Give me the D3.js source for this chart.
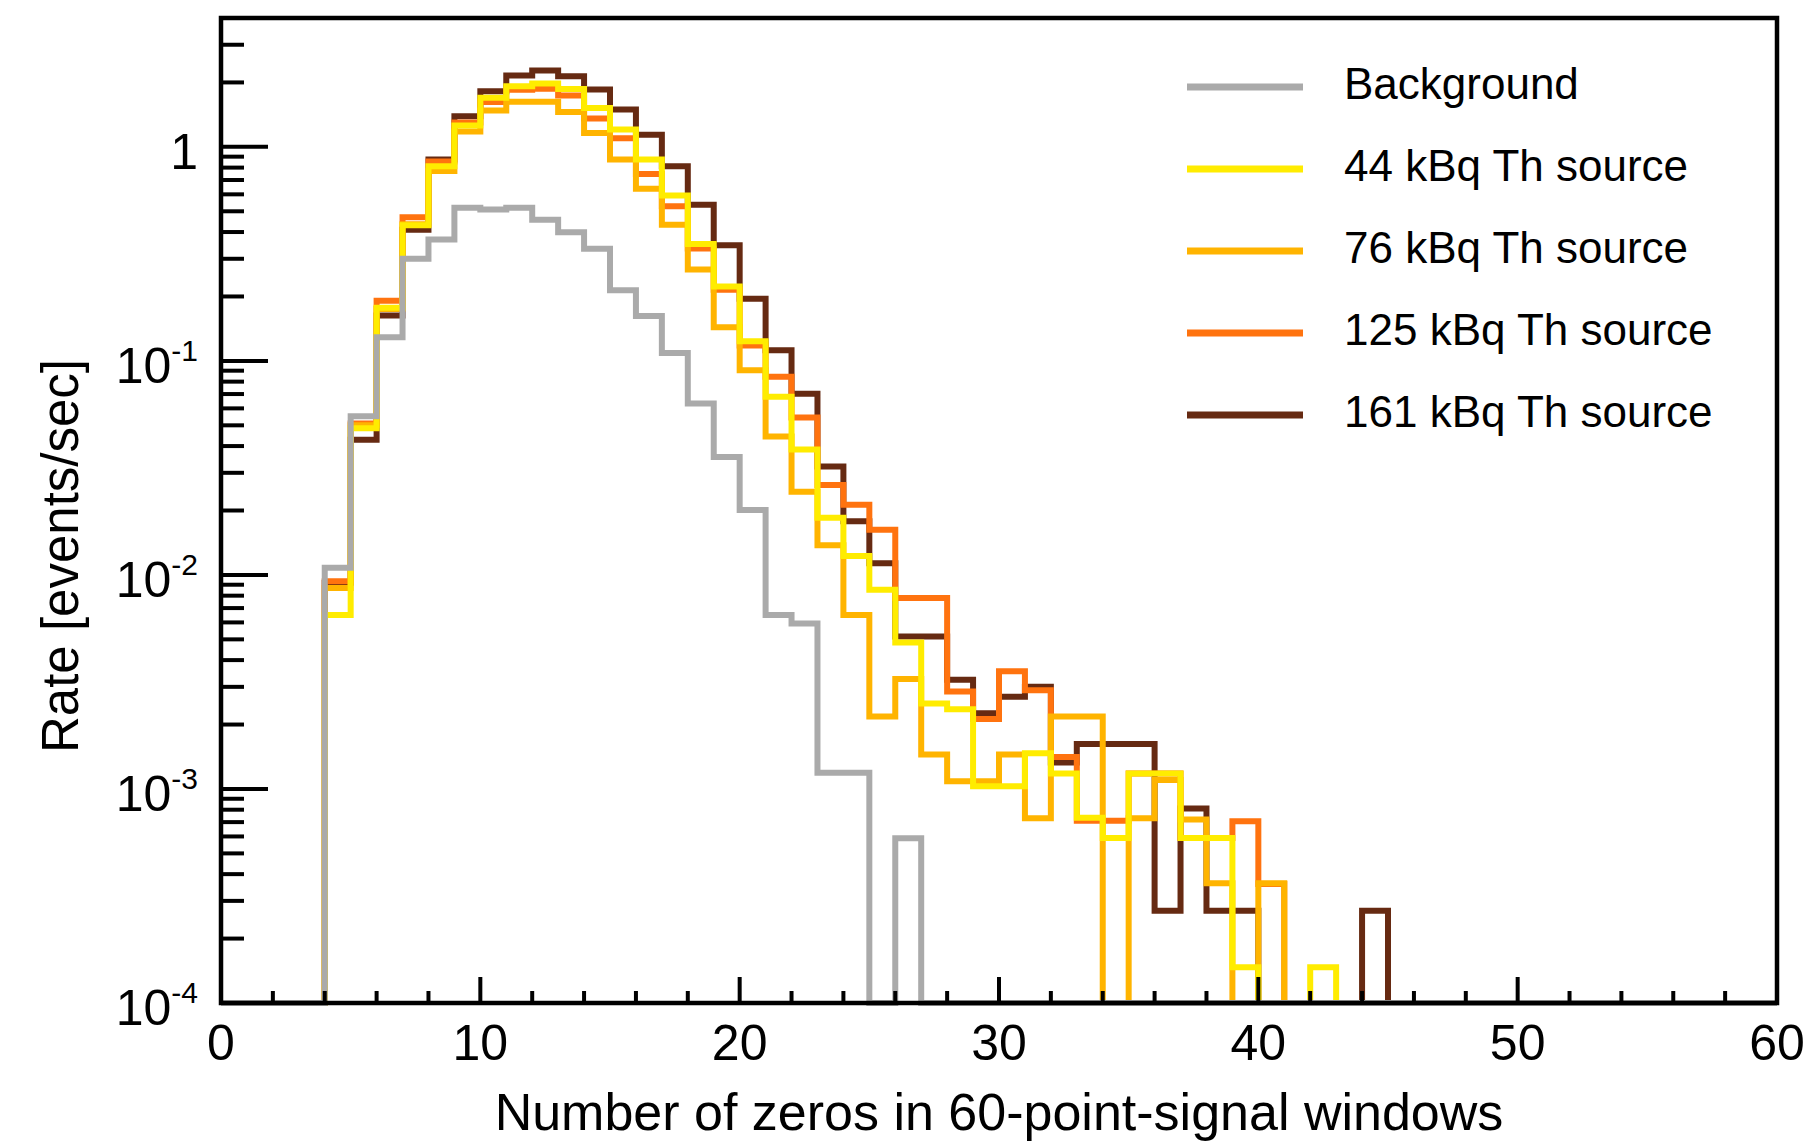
<!DOCTYPE html>
<html><head><meta charset="utf-8">
<script src="https://cdn.jsdelivr.net/npm/d3@7"></script>
<style>html,body{margin:0;padding:0;background:#fff}</style>
</head><body><svg id="c" width="1804" height="1142"></svg>
<script>
// ---------- data (rate per bin, bins of width 1 from 0 to 60) ----------
const seriesNames = ["Background", "44 kBq Th source", "76 kBq Th source", "125 kBq Th source", "161 kBq Th source"];

const background = [0,0,0,0, 0.0108, 0.0551, 0.129, 0.30, 0.369, 0.519,
  0.510, 0.519, 0.457, 0.399, 0.334, 0.214, 0.162, 0.109, 0.0633, 0.0356,
  0.0201, 0.00649, 0.00593, 0.00119, 0.00119, 0, 0.000588, 0, 0, 0,
  0,0,0,0,0,0,0,0,0,0, 0,0,0,0,0,0,0,0,0,0, 0,0,0,0,0,0,0,0,0,0];

const th44 = [0,0,0,0, 0.0065, 0.0485, 0.177, 0.430, 0.811, 1.258,
  1.694, 1.92, 1.977, 1.866, 1.521, 1.205, 0.872, 0.592, 0.352, 0.2225,
  0.1235, 0.068, 0.0385, 0.0185, 0.01225, 0.00852, 0.00483, 0.00251, 0.00236, 0.00103,
  0.00103, 0.00147, 0.00118, 0.000734, 0.00059, 0.00118, 0.00118, 0.00059, 0.00059, 0.000147,
  0, 0, 0.000147, 0,0,0,0,0,0,0, 0,0,0,0,0,0,0,0,0,0];

const th76 = [0,0,0,0, 0.0087, 0.050, 0.175, 0.435, 0.772, 1.179,
  1.478, 1.623, 1.623, 1.457, 1.162, 0.872, 0.638, 0.433, 0.267, 0.1438,
  0.0905, 0.0443, 0.0245, 0.01376, 0.0065, 0.00218, 0.00326, 0.00145, 0.001086, 0.001086,
  0.00145, 0.00073, 0.00218, 0.00218, 0, 0.00073, 0.0011, 0.00072, 0.000363, 0,
  0.000363, 0,0,0,0,0,0,0,0,0, 0,0,0,0,0,0,0,0,0,0];

const th125 = [0,0,0,0, 0.00935, 0.051, 0.191, 0.469, 0.854, 1.30,
  1.62, 1.85, 1.87, 1.737, 1.356, 1.097, 0.747, 0.528, 0.335, 0.215,
  0.118, 0.0844, 0.0544, 0.0263, 0.0213, 0.01625, 0.0078, 0.0078, 0.00285, 0.00212,
  0.00355, 0.00289, 0.00141, 0.00071, 0.00071, 0.00118, 0.00118, 0.00059, 0.00059, 0.000706,
  0.00036, 0,0,0,0,0,0,0,0,0, 0,0,0,0,0,0,0,0,0,0];

const th161 = [0,0,0,0, 0.0092, 0.0428, 0.163, 0.41, 0.872, 1.39,
  1.82, 2.155, 2.274, 2.14, 1.853, 1.494, 1.14, 0.812, 0.537, 0.347,
  0.195, 0.112, 0.0703, 0.0321, 0.0178, 0.01135, 0.00515, 0.00515, 0.00324, 0.00226,
  0.0027, 0.003, 0.00133, 0.00162, 0.00162, 0.00162, 0.00027, 0.00081, 0.00027, 0.00027,
  0, 0, 0, 0, 0.00027, 0,0,0,0,0, 0,0,0,0,0,0,0,0,0,0];

const xTickValues = [0, 10, 20, 30, 40, 50, 60];
const xTickLabels = ["0", "10", "20", "30", "40", "50", "60"];
const yDecades = [1e-4, 1e-3, 1e-2, 1e-1, 1];
const yTickBase = ["10", "10", "10", "10", "1"];
const yTickExp = ["-4", "-3", "-2", "-1", ""];
const xTitle = "Number of zeros in 60-point-signal windows";
const yTitle = "Rate [events/sec]";

// ---------- drawing ----------
const FONT = "'Liberation Sans', Arial, Helvetica, sans-serif";
const svg = d3.select("#c");
svg.append("rect").attr("width", 1804).attr("height", 1142).attr("fill", "#fff");

const L = 221, R = 1777, T = 18, B = 1003;
const x = d3.scaleLinear().domain([0, 60]).range([L, R]);
const yMin = 1e-4;
const y = d3.scaleLog().domain([yMin, 4]).range([B, T]);

const series = [
  {name: seriesNames[0], vals: background, color: "#aaaaaa"},
  {name: seriesNames[1], vals: th44, color: "#ffec00"},
  {name: seriesNames[2], vals: th76, color: "#ffb400"},
  {name: seriesNames[3], vals: th125, color: "#ff730f"},
  {name: seriesNames[4], vals: th161, color: "#662a12"}
];

function stepPath(vals) {
  const pts = vals.map((v, i) => [i, Math.max(v, yMin)]);
  pts.push([vals.length, Math.max(vals[vals.length - 1], yMin)]);
  return d3.line().x(d => x(d[0])).y(d => y(d[1])).curve(d3.curveStepAfter)(pts);
}

const gH = svg.append("g");
series.slice().reverse().forEach(s => {
  gH.append("path").attr("d", stepPath(s.vals))
    .attr("fill", "none").attr("stroke", s.color)
    .attr("stroke-width", 6).attr("stroke-linejoin", "miter");
});

// axes ticks
const gA = svg.append("g").attr("stroke", "#000").attr("stroke-width", 4);
d3.range(0, 61, 2).forEach(v => {
  const major = v % 10 === 0;
  gA.append("line").attr("x1", x(v)).attr("x2", x(v))
    .attr("y1", B).attr("y2", B - (major ? 26 : 12));
});
const yMinor = [];
yDecades.slice(0, 4).forEach(d => { for (let k = 2; k <= 9; k++) yMinor.push(k * d); });
yMinor.push(2, 3);
yMinor.forEach(v => {
  gA.append("line").attr("x1", L).attr("x2", L + 23).attr("y1", y(v)).attr("y2", y(v));
});
yDecades.forEach(v => {
  gA.append("line").attr("x1", L).attr("x2", L + 47).attr("y1", y(v)).attr("y2", y(v));
});

// frame
svg.append("rect").attr("x", L).attr("y", T).attr("width", R - L).attr("height", B - T)
  .attr("fill", "none").attr("stroke", "#000").attr("stroke-width", 4.5);

// x tick labels
xTickValues.forEach((v, i) => {
  svg.append("text").attr("x", x(v)).attr("y", 1060)
    .attr("text-anchor", "middle").attr("font-family", FONT).attr("font-size", 50)
    .text(xTickLabels[i]);
});

// y tick labels
yDecades.forEach((v, i) => {
  const t = svg.append("text").attr("x", 198).attr("y", y(v) + 22)
    .attr("text-anchor", "end").attr("font-family", FONT).attr("font-size", 50);
  t.append("tspan").text(yTickBase[i]);
  if (yTickExp[i]) t.append("tspan").attr("dy", -22).attr("font-size", 30).text(yTickExp[i]);
});

// axis titles
svg.append("text").attr("x", (L + R) / 2).attr("y", 1130)
  .attr("text-anchor", "middle").attr("font-family", FONT).attr("font-size", 52)
  .text(xTitle);
svg.append("text").attr("transform", "translate(78,556) rotate(-90)")
  .attr("text-anchor", "middle").attr("font-family", FONT).attr("font-size", 51)
  .text(yTitle);

// legend
series.forEach((s, i) => {
  const ly = 87 + 82 * i;
  svg.append("line").attr("x1", 1187).attr("x2", 1303).attr("y1", ly).attr("y2", ly)
    .attr("stroke", s.color).attr("stroke-width", 7);
  svg.append("text").attr("x", 1344).attr("y", ly + 12)
    .attr("font-family", FONT).attr("font-size", 44).text(s.name);
});
</script>
</body></html>
